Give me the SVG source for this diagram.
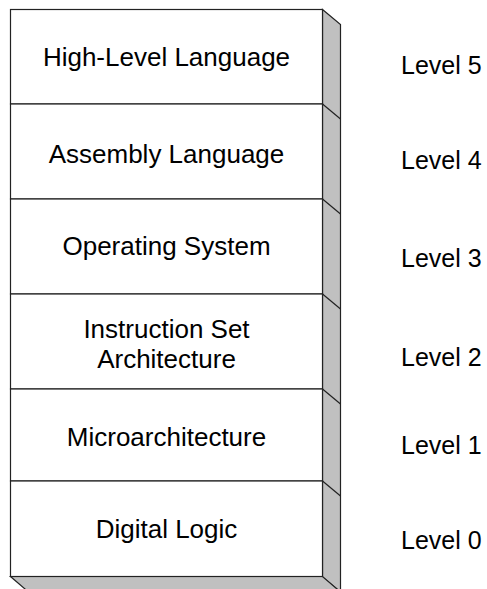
<svg xmlns="http://www.w3.org/2000/svg" width="487" height="589" viewBox="0 0 487 589">
<style>
.face{fill:#ffffff;stroke:#222;stroke-width:1.2}
.side{fill:#c0c0c0;stroke:#222;stroke-width:1.2}
.edge{stroke:#222;stroke-width:1.2;fill:none}
.t{font-family:"Liberation Sans",Arial,sans-serif;font-size:26px;fill:#000;text-anchor:middle}
.lv{font-family:"Liberation Sans",Arial,sans-serif;font-size:25px;fill:#000}
</style>
<rect width="487" height="589" fill="#fff"/>
<g id="shading">
<polygon class="side" points="322.5,9.5 340.5,24.5 340.5,592 322.5,577"/>
<polygon class="side" points="10.5,576.5 322.5,576.5 340.5,592 28.5,592"/>
<line class="edge" x1="322.5" y1="104" x2="340.5" y2="119"/>
<line class="edge" x1="322.5" y1="199" x2="340.5" y2="214"/>
<line class="edge" x1="322.5" y1="294" x2="340.5" y2="309"/>
<line class="edge" x1="322.5" y1="389" x2="340.5" y2="404"/>
<line class="edge" x1="322.5" y1="481" x2="340.5" y2="496"/>
</g>
<g id="level5">
<rect class="face" x="10.5" y="9.5" width="312" height="94.5"/>
<text class="t" x="166.5" y="65.5">High-Level Language</text>
<text class="lv" x="401" y="74">Level 5</text>
</g>
<g id="level4">
<rect class="face" x="10.5" y="104" width="312" height="95"/>
<text class="t" x="166.5" y="163">Assembly Language</text>
<text class="lv" x="401" y="169">Level 4</text>
</g>
<g id="level3">
<rect class="face" x="10.5" y="199" width="312" height="95"/>
<text class="t" x="166.5" y="254.5">Operating System</text>
<text class="lv" x="401" y="267">Level 3</text>
</g>
<g id="level2">
<rect class="face" x="10.5" y="294" width="312" height="95"/>
<text class="t" x="166.5" y="338">Instruction Set</text>
<text class="t" x="166.5" y="368">Architecture</text>
<text class="lv" x="401" y="366">Level 2</text>
</g>
<g id="level1">
<rect class="face" x="10.5" y="389" width="312" height="92"/>
<text class="t" x="166.5" y="446">Microarchitecture</text>
<text class="lv" x="401" y="454">Level 1</text>
</g>
<g id="level0">
<rect class="face" x="10.5" y="481" width="312" height="95.5"/>
<text class="t" x="166.5" y="537.5">Digital Logic</text>
<text class="lv" x="401" y="549">Level 0</text>
</g>
<g id="connectors"/>
</svg>
